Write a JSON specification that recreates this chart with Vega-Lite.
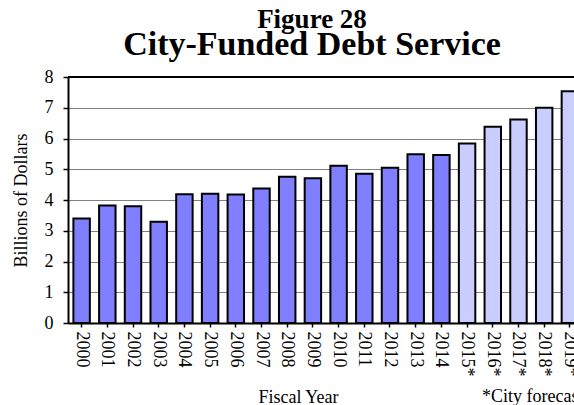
{
  "$schema": "https://vega.github.io/schema/vega-lite/v6.json",
  "width": 506,
  "height": 246,
  "autosize": {"type": "none"},
  "padding": {"left": 68, "top": 77, "right": 0, "bottom": 82},
  "background": "white",
  "config": {
    "font": "Liberation Serif",
    "view": {"stroke": null},
    "axis": {
      "labelFont": "Liberation Serif",
      "titleFont": "Liberation Serif",
      "labelColor": "black",
      "titleColor": "black",
      "labelFontSize": 18,
      "titleFontSize": 18,
      "titleFontWeight": "normal",
      "domainColor": "black",
      "domainWidth": 2,
      "tickColor": "black",
      "tickWidth": 1.5
    }
  },
  "title": {
    "text": "Figure 28",
    "subtitle": "City-Funded Debt Service",
    "font": "Liberation Serif",
    "subtitleFont": "Liberation Serif",
    "fontSize": 27,
    "subtitleFontSize": 34,
    "fontWeight": "bold",
    "subtitleFontWeight": "bold",
    "color": "black",
    "subtitleColor": "black",
    "anchor": "middle",
    "dx": -9,
    "offset": 5,
    "subtitlePadding": -6
  },
  "resolve": {"axis": {"x": "independent", "y": "independent"}},
  "data": {
    "values": [
      {"year": "2000", "value": 3.40, "type": "Actual"},
      {"year": "2001", "value": 3.82, "type": "Actual"},
      {"year": "2002", "value": 3.80, "type": "Actual"},
      {"year": "2003", "value": 3.29, "type": "Actual"},
      {"year": "2004", "value": 4.19, "type": "Actual"},
      {"year": "2005", "value": 4.20, "type": "Actual"},
      {"year": "2006", "value": 4.18, "type": "Actual"},
      {"year": "2007", "value": 4.37, "type": "Actual"},
      {"year": "2008", "value": 4.76, "type": "Actual"},
      {"year": "2009", "value": 4.71, "type": "Actual"},
      {"year": "2010", "value": 5.11, "type": "Actual"},
      {"year": "2011", "value": 4.85, "type": "Actual"},
      {"year": "2012", "value": 5.05, "type": "Actual"},
      {"year": "2013", "value": 5.49, "type": "Actual"},
      {"year": "2014", "value": 5.46, "type": "Actual"},
      {"year": "2015*", "value": 5.84, "type": "Forecast"},
      {"year": "2016*", "value": 6.38, "type": "Forecast"},
      {"year": "2017*", "value": 6.62, "type": "Forecast"},
      {"year": "2018*", "value": 7.00, "type": "Forecast"},
      {"year": "2019*", "value": 7.54, "type": "Forecast"}
    ]
  },
  "layer": [
    {
      "mark": {"type": "bar", "stroke": "black", "strokeWidth": 2},
      "encoding": {
        "x": {
          "field": "year",
          "type": "nominal",
          "sort": null,
          "scale": {"range": [0, 515.5], "paddingInner": 0.36, "paddingOuter": 0.21},
          "axis": {
            "title": "Fiscal Year",
            "labelAngle": 90,
            "labelPadding": 4,
            "tickSize": 4,
            "titleX": 230,
            "titleY": 79,
            "titleBaseline": "alphabetic"
          }
        },
        "y": {
          "field": "value",
          "type": "quantitative",
          "scale": {"domain": [0, 8], "nice": false},
          "axis": {
            "title": "Billions of Dollars",
            "values": [0, 1, 2, 3, 4, 5, 6, 7, 8],
            "labelOverlap": false,
            "tickSize": 5,
            "labelPadding": 10,
            "titlePadding": 14,
            "grid": true,
            "gridColor": "black",
            "gridDash": [1, 1],
            "gridWidth": 1.2
          }
        },
        "color": {
          "field": "type",
          "type": "nominal",
          "scale": {"domain": ["Actual", "Forecast"], "range": ["#7f7fff", "#c9cdff"]},
          "legend": null
        }
      }
    },
    {
      "data": {"values": [{"top": 8}]},
      "mark": {"type": "rule", "color": "black", "strokeWidth": 2},
      "encoding": {"y": {"field": "top", "type": "quantitative", "axis": null}}
    },
    {
      "data": {"values": [{"note": "*City forecast", "pos": "2015*", "level": -2.57}]},
      "mark": {"type": "text", "align": "left", "baseline": "alphabetic", "fontSize": 18, "font": "Liberation Serif", "color": "black", "dx": 15},
      "encoding": {
        "x": {"field": "pos", "type": "nominal", "axis": null},
        "y": {"field": "level", "type": "quantitative", "axis": null},
        "text": {"field": "note"}
      }
    }
  ]
}
